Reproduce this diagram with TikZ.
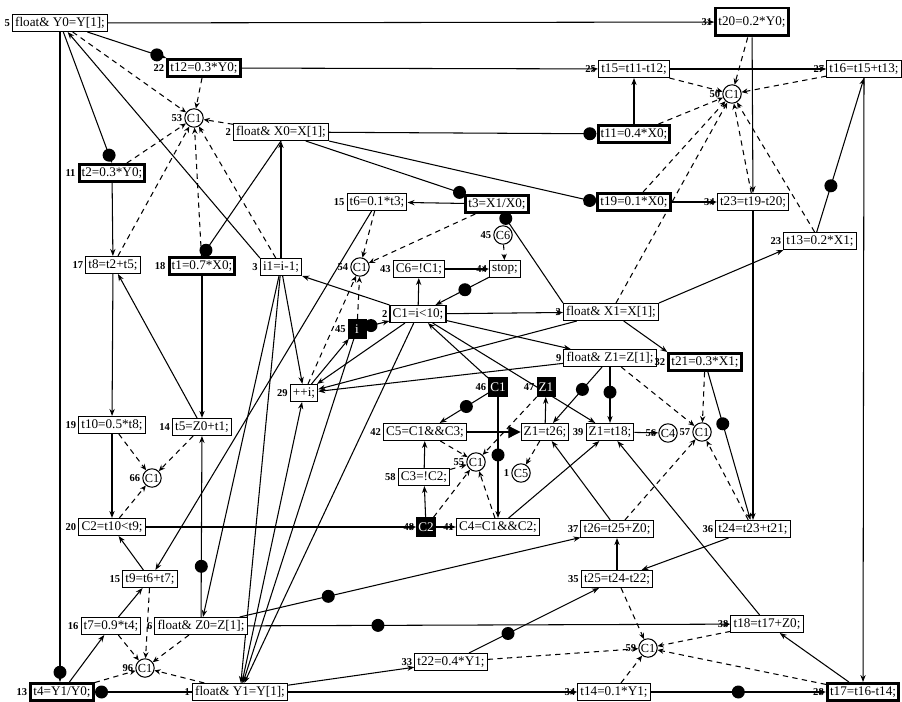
\documentclass[tikz,border=0pt]{standalone}
\usepackage{fontspec}
\setmainfont{Liberation Serif}
\usetikzlibrary{arrows.meta,backgrounds}

\begin{document}
\begin{tikzpicture}[
    x=0.02cm, y=-0.02cm,
    font=\fontsize{7.5}{8}\selectfont,
    op/.style={draw, semithick, fill=white, inner sep=1.5pt,
               minimum height=3.4mm},
    heavy/.style={op, line width=1.7pt},
    blk/.style={draw, fill=black, text=white, inner sep=1pt,
                minimum width=3.6mm, minimum height=3.8mm},
    cnd/.style={circle, draw, semithick, fill=white, inner sep=0.4pt,
                minimum size=3.6mm, font=\fontsize{7}{7}\selectfont},
    num/.style={font=\fontsize{6}{6}\selectfont\bfseries, inner sep=1pt},
    dot/.style={circle, fill=black, inner sep=0pt, minimum size=2.6mm},
    link/.style={-{Stealth[length=4pt,width=3pt]}, semithick},
    ctl/.style={-{Stealth[length=3.5pt,width=3pt]}, semithick,
                dash pattern=on 3pt off 2.5pt},
    big/.style={-{Triangle[length=7pt,width=7pt]}, semithick}
  ]
  \useasboundingbox (0,0) rectangle (902,702);

  % top rows
  \node[op, label={[num]left:5}] (y0) at (60,23) {float\& Y0=Y[1];};
  \node[heavy, minimum height=5.6mm, label={[num]left:31}] (t20) at (752,22) {t20=0.2*Y0;};
  \node[heavy, label={[num]left:22}] (t12) at (204,68) {t12=0.3*Y0;};
  \node[op, label={[num]left:25}] (t15) at (634,69) {t15=t11-t12;};
  \node[op, label={[num]left:27}] (t16) at (864,69) {t16=t15+t13;};
  \node[cnd, label={[num]left:53}] (c53) at (194,118) {C1};
  \node[cnd, label={[num]left:50}] (c50) at (732,94) {C1};
  \node[op, label={[num]left:2}] (x0) at (281,132) {float\& X0=X[1];};
  \node[heavy, label={[num]left:21}] (t11) at (634,134) {t11=0.4*X0;};
  \node[heavy, label={[num]left:11}] (t2) at (112,173) {t2=0.3*Y0;};
  \node[op, label={[num]left:15}] (t6) at (377,202) {t6=0.1*t3;};
  \node[heavy] (t3) at (497,204) {t3=X1/X0;};
  \node[heavy, label={[num]left:30}] (t19) at (634,202) {t19=0.1*X0;};
  \node[op, label={[num]left:34}] (t23) at (753,202) {t23=t19-t20;};
  \node[cnd, label={[num]left:45}] (c6c) at (503,235) {C6};
  \node[op, label={[num]left:23}] (t13) at (820,241) {t13=0.2*X1;};

  % middle
  \node[op, label={[num]left:17}] (t8) at (113,265) {t8=t2+t5;};
  \node[heavy, label={[num]left:18}] (t1) at (202,266) {t1=0.7*X0;};
  \node[op, label={[num]left:3}] (i1) at (281,267) {i1=i-1;};
  \node[cnd, label={[num]left:54}] (c54) at (360,267) {C1};
  \node[op, label={[num]left:43}] (c6) at (419,269) {C6=!C1;};
  \node[op, label={[num]left:44}] (stop) at (505,269) {stop;};
  \node[op, label={[num]left:2}] (c1) at (418,314) {C1=i<10;};
  \node[blk, label={[num]left:45}] (ivar) at (357,329) {i};
  \node[op, label={[num]left:3}] (x1) at (611,312) {float\& X1=X[1];};
  \node[op, label={[num]left:9}] (z1) at (610,358) {float\& Z1=Z[1];};
  \node[heavy, label={[num]left:32}] (t21) at (705,362) {t21=0.3*X1;};
  \node[op, label={[num]left:29}] (inc) at (304,393) {++i;};
  \node[blk, label={[num]left:46}] (c1k) at (498,387) {C1};
  \node[blk, label={[num]left:47}] (z1k) at (546,387) {Z1};
  \node[op, label={[num]left:19}] (t10) at (112,425) {t10=0.5*t8;};
  \node[op, label={[num]left:14}] (t5) at (202,427) {t5=Z0+t1;};
  \node[op, label={[num]left:42}] (c5) at (425,432) {C5=C1\&\&C3;};
  \node[op] (z1a) at (545,432) {Z1=t26;};
  \node[op, label={[num]left:39}] (z1c) at (610,432) {Z1=t18;};
  \node[cnd, label={[num]left:56}] (c4c) at (668,433) {C4};
  \node[cnd, label={[num]left:57}] (c57) at (702,432) {C1};
  \node[cnd, label={[num]left:55}] (c55) at (476,462) {C1};
  \node[cnd, label={[num]left:1}] (c5c) at (521,473) {C5};
  \node[op, label={[num]left:58}] (c3) at (424,477) {C3=!C2;};
  \node[cnd, label={[num]left:66}] (c66) at (152,478) {C1};

  % lower rows
  \node[op, label={[num]left:20}] (c2) at (112,527) {C2=t10<t9;};
  \node[blk, label={[num]left:48}] (c2k) at (426,527) {C2};
  \node[op, label={[num]left:41}] (c4) at (498,527) {C4=C1\&\&C2;};
  \node[op, label={[num]left:37}] (t26) at (617,529) {t26=t25+Z0;};
  \node[op, label={[num]left:36}] (t24) at (753,529) {t24=t23+t21;};
  \node[op, label={[num]left:15}] (t9) at (150,579) {t9=t6+t7;};
  \node[op, label={[num]left:35}] (t25) at (617,579) {t25=t24-t22;};
  \node[op, label={[num]left:16}] (t7) at (111,626) {t7=0.9*t4;};
  \node[op, label={[num]left:6}] (z0) at (201,626) {float\& Z0=Z[1];};
  \node[op, label={[num]left:38}] (t18) at (767,624) {t18=t17+Z0;};
  \node[cnd, label={[num]left:96}] (c96) at (145,668) {C1};
  \node[op, label={[num]left:33}] (t22) at (451,662) {t22=0.4*Y1;};
  \node[cnd, label={[num]left:59}] (c59) at (648,648) {C1};
  \node[heavy, label={[num]left:13}] (t4) at (62,692) {t4=Y1/Y0;};
  \node[op, label={[num]left:1}] (y1) at (240,692) {float\& Y1=Y[1];};
  \node[op, label={[num]left:34}] (t14) at (614,692) {t14=0.1*Y1;};
  \node[heavy, label={[num]left:28}] (t17) at (863,692) {t17=t16-t14;};

  \begin{scope}[on background layer]
    % data
    \draw[link] (y0) -- (t20);
    \draw[link] (y0) -- node[dot, pos=0.88] {} (t12.north west);
    \draw[link] (y0) -- node[dot, pos=0.94] {} (t2.north);
    \draw[link] (y0.south) -- node[dot, pos=0.985] {} (y0.south |- t4.north);
    \draw[link] (i1.north west) -- (y0);
    \draw[link] (i1.north) -- (i1.north |- x0.south);
    \draw[link] (x0) -- node[dot, pos=0.975] {} (t11);
    \draw[link] (x0.-20) -- node[dot, pos=0.97] {} (t3.north west);
    \draw[link] (x0.south east) -- node[dot, pos=0.975] {} (t19.west);
    \draw[link] (x0.south) -- node[dot, pos=0.95] {} (t1.north);
    \draw[link] (t2) -- (t8);
    \draw[link] (t11) -- (t15);
    \draw[link] (t12) -- (t15);
    \draw[link] (t15) -- (t16);
    \draw[link] (t20) -- (t23);
    \draw[link] (t23) -- (t24);
    \draw[link] (t19) -- (t23);
    \draw[link] (t13.110) -- node[dot, pos=0.3] {} (t16.south);
    \draw[link] (x1.north east) -- (t13.south west);
    \draw[link] (x1) -- (t21.north west);
    \draw[link] (x1.north west) -- node[dot, pos=0.95] {} (t3.-60);
    \draw[link] (t3) -- (t6);
    \draw[link] (t6) -- (t9);
    \draw[link] (c6) -- (stop);
    \draw[link] (c1) -- (c6);
    \draw[link] (stop) -- node[dot, pos=0.45] {} (c1);
    \draw[link] (c1.north west) -- (i1.south east);
    \draw[link] (ivar) -- node[dot, pos=0.2] {} (c1);
    \draw[link] (inc) -- (ivar);
    \draw[link] (i1) -- (inc);
    \draw[link] (c1) -- (inc);
    \draw[link] (x1) -- (inc);
    \draw[link] (z1) -- (inc);
    \draw[link] (c1) -- (x1);
    \draw[link] (c1) -- (z1);
    \draw[link] (c1k) -- (c1);
    \draw[link] (c1) -- (z1c);
    \draw[link] (c1k) -- node[dot, pos=0.45] {} (c5);
    \draw[link] (c1k) -- node[dot, pos=0.48] {} (c4);
    \draw[big] (c5) -- (z1a);
    \draw[link] (z1a) -- (z1k);
    \draw[link] (z1) -- node[dot, pos=0.4] {} (z1a);
    \draw[link] (z1) -- node[dot, pos=0.45] {} (z1c);
    \draw[link] (z1c) -- (c4c);
    \draw[link] (c3) -- (c5);
    \draw[link] (c2k) -- (c3);
    \draw[link] (c2k) -- (c4);
    \draw[link] (c2) -- (c2k);
    \draw[link] (c4) -- (z1c);
    \draw[link] (t26) -- (z1a);
    \draw[link] (t18) -- (z1c);
    \draw[link] (t25) -- (t26);
    \draw[link] (t24) -- (t25);
    \draw[link] (t21) -- node[dot, pos=0.35] {} (t24);
    \draw[link] (t22) -- node[dot, pos=0.3] {} (t25);
    \draw[link] (t17) -- (t18);
    \draw[link] (t16) -- (t17);
    \draw[link] (t14) -- node[dot, pos=0.5] {} (t17);
    \draw[link] (z0) -- node[dot, pos=0.26] {} (t26);
    \draw[link] (z0) -- node[dot, pos=0.27] {} (t18);
    \draw[link] (z0) -- node[dot, pos=0.28] {} (t5);
    \draw[link] (i1) -- (z0);
    \draw[link] (i1) -- (y1);
    \draw[link] (y1) -- (inc);
    \draw[link] (ivar) -- (y1);
    \draw[link] (c1) -- (y1);
    \draw[link] (y1) -- node[dot, pos=0.93] {} (t4);
    \draw[link] (y1) -- (t22);
    \draw[link] (y1) -- (t14);
    \draw[link] (t4) -- (t7);
    \draw[link] (t7) -- (t9);
    \draw[link] (t9) -- (c2);
    \draw[link] (t10) -- (c2);
    \draw[link] (t8) -- (t10);
    \draw[link] (t5) -- (t8);
    \draw[link] (t1) -- (t5);

    % control
    \foreach \src in {y0, t12, x0, t2, t8, t1, i1}
      \draw[ctl] (\src) -- (c53);
    \foreach \src in {t20, t15, t16, t11, t19, x1, t23, t13}
      \draw[ctl] (\src) -- (c50);
    \foreach \src in {t6, t3, inc, ivar}
      \draw[ctl] (\src) -- (c54);
    \draw[ctl] (c6c) -- (stop);
    \foreach \src in {t10, t5, c2}
      \draw[ctl] (\src) -- (c66);
    \foreach \src in {c2k, c4, c5, c3, z1k}
      \draw[ctl] (\src) -- (c55);
    \draw[ctl] (z1a) -- (c5c);
    \foreach \src in {z1, t21, t26, t24}
      \draw[ctl] (\src) -- (c57);
    \foreach \src in {t9, t7, z0, t4, y1}
      \draw[ctl] (\src) -- (c96);
    \foreach \src in {t25, t18, t22, t14, t17}
      \draw[ctl] (\src) -- (c59);
  \end{scope}
\end{tikzpicture}
\end{document}
